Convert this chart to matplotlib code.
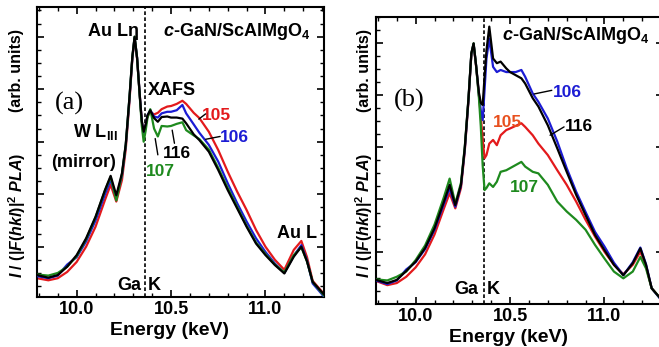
import matplotlib
matplotlib.use("Agg")
import matplotlib.pyplot as plt
from matplotlib.ticker import MultipleLocator, NullFormatter

plt.rcParams['font.family'] = ['Liberation Sans', 'DejaVu Sans']
plt.rcParams['font.weight'] = 'bold'
plt.rcParams['mathtext.fontset'] = 'custom'
plt.rcParams['mathtext.rm'] = 'Liberation Sans:bold'
plt.rcParams['mathtext.bf'] = 'Liberation Sans:bold'
plt.rcParams['mathtext.it'] = 'Liberation Sans:italic:bold'

# ---------------- data (energy in keV, intensity in arb. units) ----------------
energy = [9.79, 9.85, 9.90, 9.95, 10.00, 10.05, 10.10, 10.15, 10.18, 10.21, 10.24,
          10.26, 10.28, 10.295, 10.307, 10.32, 10.335, 10.345, 10.355, 10.365,
          10.375, 10.39, 10.41, 10.43, 10.45, 10.48, 10.50, 10.53, 10.56, 10.58,
          10.62, 10.65, 10.70, 10.75, 10.80, 10.85, 10.90, 10.95, 11.00, 11.05,
          11.10, 11.15, 11.19, 11.22, 11.25, 11.31]

# panel (a)
a_105 = [0.40, 0.36, 0.40, 0.52, 0.71, 1.00, 1.38, 1.89, 2.18, 1.86, 2.27,
         2.85, 3.78, 4.58, 4.97, 4.58, 3.85, 3.38, 3.14, 3.30,
         3.48, 3.57, 3.52, 3.55, 3.62, 3.67, 3.68, 3.72, 3.78, 3.72,
         3.55, 3.45, 3.19, 2.84, 2.43, 2.05, 1.70, 1.32, 1.00, 0.75,
         0.56, 0.94, 1.11, 0.80, 0.35, 0.10]
a_106 = [0.44, 0.40, 0.45, 0.66, 0.80, 1.10, 1.50, 2.00, 2.27, 1.93, 2.36,
         2.92, 3.83, 4.60, 4.99, 4.60, 3.85, 3.38, 3.15, 3.30,
         3.50, 3.60, 3.48, 3.46, 3.54, 3.57, 3.57, 3.60, 3.70, 3.54,
         3.33, 3.17, 2.94, 2.62, 2.21, 1.83, 1.48, 1.16, 0.90, 0.68,
         0.50, 0.83, 1.03, 0.74, 0.30, 0.05]
a_107 = [0.47, 0.45, 0.50, 0.62, 0.82, 1.14, 1.56, 2.07, 2.33, 1.88, 2.38,
         2.94, 3.86, 4.62, 5.00, 4.60, 3.82, 3.30, 3.00, 3.20,
         3.45, 3.62, 3.25, 3.10, 3.30, 3.29, 3.30, 3.34, 3.37, 3.22,
         3.12, 3.05, 2.85, 2.50, 2.12, 1.76, 1.40, 1.08, 0.86, 0.66,
         0.51, 0.84, 0.99, 0.72, 0.33, 0.07]
a_116 = [0.46, 0.41, 0.46, 0.62, 0.84, 1.16, 1.57, 2.08, 2.35, 1.98, 2.40,
         2.95, 3.86, 4.62, 5.00, 4.60, 3.85, 3.40, 3.19, 3.32,
         3.50, 3.60, 3.45, 3.38, 3.47, 3.48, 3.46, 3.46, 3.44, 3.35,
         3.14, 3.03, 2.81, 2.46, 2.08, 1.73, 1.38, 1.06, 0.84, 0.65,
         0.49, 0.81, 1.00, 0.72, 0.33, 0.09]

# panel (b)
b_105 = [0.44, 0.36, 0.40, 0.52, 0.70, 0.95, 1.33, 1.83, 2.12, 1.83, 2.22,
         2.92, 3.90, 4.78, 4.97, 4.55, 4.00, 3.60, 3.15, 2.79,
         2.85, 3.07, 3.14, 3.04, 3.23, 3.33, 3.36, 3.41, 3.46, 3.39,
         3.23, 3.07, 2.85, 2.56, 2.28, 1.96, 1.61, 1.29, 1.00, 0.75,
         0.57, 0.75, 1.00, 0.72, 0.30, 0.05]
b_106 = [0.45, 0.38, 0.45, 0.66, 0.80, 1.05, 1.42, 1.92, 2.22, 1.86, 2.27,
         2.95, 3.92, 4.79, 4.98, 4.57, 4.00, 3.70, 3.52, 4.10,
         4.70, 5.08, 4.54, 4.44, 4.48, 4.44, 4.44, 4.44, 4.48, 4.35,
         4.03, 3.87, 3.55, 3.11, 2.60, 2.15, 1.76, 1.38, 1.10, 0.79,
         0.55, 0.80, 1.08, 0.76, 0.30, 0.03]
b_107 = [0.47, 0.45, 0.52, 0.62, 0.84, 1.12, 1.52, 2.05, 2.40, 1.92, 2.32,
         3.00, 3.95, 4.80, 4.99, 4.57, 3.95, 3.40, 2.65, 2.18,
         2.22, 2.31, 2.24, 2.34, 2.53, 2.56, 2.60, 2.66, 2.72, 2.63,
         2.53, 2.50, 2.28, 1.96, 1.77, 1.61, 1.42, 1.13, 0.87, 0.62,
         0.49, 0.62, 0.90, 0.68, 0.30, 0.05]
b_116 = [0.46, 0.40, 0.46, 0.63, 0.81, 1.07, 1.45, 1.96, 2.28, 1.89, 2.28,
         2.98, 3.94, 4.80, 4.99, 4.57, 4.05, 3.85, 3.81, 4.35,
         4.85, 5.31, 4.70, 4.61, 4.64, 4.51, 4.44, 4.38, 4.32, 4.22,
         3.94, 3.78, 3.42, 2.98, 2.53, 2.09, 1.70, 1.32, 1.03, 0.75,
         0.55, 0.78, 1.065, 0.75, 0.30, 0.05]

ga_k_edge = 10.36
xticks = [10.0, 10.5, 11.0]
xtick_labels = ["10.0", "10.5", "11.0"]

C_RED = '#e31a1c'
C_ORANGE = '#e8501e'
C_BLUE = '#1c1cd4'
C_GREEN = '#1e8a1e'
C_BLACK = '#000000'

fig = plt.figure(figsize=(6.59, 3.47), dpi=100)
axa = fig.add_axes([37/659, 1-297/347, (324-37)/659, (297-7)/347])
axb = fig.add_axes([376/659, 1-304.3/347, (663-376)/659, (304.3-16.7)/347])

LW = 1.6
def style(ax, ylim):
    ax.set_xlim(9.79, 11.31)
    ax.set_ylim(*ylim)
    ax.set_xticks(xticks)
    ax.set_xticklabels(xtick_labels, fontsize=13, fontweight='bold')
    ax.xaxis.set_minor_locator(MultipleLocator(0.1))
    ax.yaxis.set_major_locator(MultipleLocator(1.0))
    ax.yaxis.set_minor_locator(MultipleLocator(0.25))
    ax.yaxis.set_major_formatter(NullFormatter())
    ax.tick_params(which='both', direction='in', top=True, right=True)
    ax.tick_params(which='major', length=5, width=1.2, pad=3)
    ax.tick_params(which='minor', length=3, width=1.0)
    for s in ax.spines.values():
        s.set_linewidth(1.5)
    ax.set_xlabel('Energy (keV)', fontsize=14, fontweight='bold')
    ax.xaxis.set_label_coords(0.46, -0.085)
    ax.axvline(ga_k_edge, color='black', lw=1.2, ls=(0, (2.2, 1.4)), zorder=1)

style(axa, (0.042, 5.566))
style(axb, (-0.007, 5.50))

for ax, (r, b, g, k) in ((axa, (a_105, a_106, a_107, a_116)),
                         (axb, (b_105, b_106, b_107, b_116))):
    ax.plot(energy, r, color=C_RED, lw=LW, zorder=2)
    ax.plot(energy, b, color=C_BLUE, lw=LW, zorder=3)
    ax.plot(energy, g, color=C_GREEN, lw=LW, zorder=4)
    ax.plot(energy, k, color=C_BLACK, lw=LW, zorder=5)

ylab_main = r'$I$ / (|$F$($hkl$)|$^2$ $PLA$)'
for xf in (17/659, 364/659):
    fig.text(xf, 1-215/347, ylab_main, rotation=90, ha='center', va='center',
             fontsize=11.5, fontweight='bold')
    fig.text(xf, 1-70/347, '(arb. units)', rotation=90, ha='center', va='center',
             fontsize=11.5, fontweight='bold')

TF = dict(fontsize=13, fontweight='bold')
LF = dict(fontsize=12.5, fontweight='bold')
line_kw = dict(arrowstyle='-', lw=1.0, color='black', shrinkA=0, shrinkB=0)

# ---- panel (a) annotations
axa.text(10.058, 5.01, 'Au Lη', ha='left', va='baseline', **TF)
axa.text(10.455, 5.01, r'$c$-GaN/ScAlMgO$_4$', ha='left', va='baseline', **TF)
axa.text(9.963, 3.737, '(a)', ha='center', va='center', fontsize=19,
         fontweight='normal', family='Liberation Serif')
axa.text(10.376, 3.89, 'XAFS', ha='left', va='baseline', **TF)
axa.text(10.098, 3.09, r'W L$_{\rm III}$', ha='center', va='baseline', **TF)
axa.text(10.037, 2.52, '(mirror)', ha='center', va='baseline', **TF)
axa.text(11.063, 1.17, 'Au L', ha='left', va='baseline', **TF)
axa.text(10.344, 0.175, 'Ga', ha='right', va='baseline', **TF)
axa.text(10.376, 0.175, 'K', ha='left', va='baseline', **TF)

axa.text(10.661, 3.41, '105', color=C_RED, ha='left', va='baseline', **LF)
axa.annotate('', xy=(10.647, 3.43), xytext=(10.683, 3.53), arrowprops=line_kw)
axa.text(10.757, 3.0, '106', color=C_BLUE, ha='left', va='baseline', **LF)
axa.annotate('', xy=(10.683, 3.046), xytext=(10.76, 3.10), arrowprops=line_kw)
axa.text(10.455, 2.69, '116', color=C_BLACK, ha='left', va='baseline', **LF)
axa.annotate('', xy=(10.506, 3.22), xytext=(10.518, 2.97), arrowprops=line_kw)
axa.text(10.365, 2.35, '107', color=C_GREEN, ha='left', va='baseline', **LF)
axa.annotate('', xy=(10.416, 3.06), xytext=(10.43, 2.75), arrowprops=line_kw)

# ---- panel (b) annotations
axb.text(10.456, 5.05, r'$c$-GaN/ScAlMgO$_4$', ha='left', va='baseline', **TF)
axb.text(9.964, 3.90, '(b)', ha='center', va='center', fontsize=19,
         fontweight='normal', family='Liberation Serif')
axb.text(10.332, 0.185, 'Ga', ha='right', va='baseline', **TF)
axb.text(10.376, 0.185, 'K', ha='left', va='baseline', **TF)

axb.text(10.728, 3.97, '106', color=C_BLUE, ha='left', va='baseline', **LF)
axb.annotate('', xy=(10.627, 4.02), xytext=(10.721, 4.09), arrowprops=line_kw)
axb.text(10.41, 3.39, '105', color=C_ORANGE, ha='left', va='baseline', **LF)
axb.text(10.79, 3.31, '116', color=C_BLACK, ha='left', va='baseline', **LF)
axb.annotate('', xy=(10.712, 3.23), xytext=(10.786, 3.39), arrowprops=line_kw)
axb.text(10.50, 2.14, '107', color=C_GREEN, ha='left', va='baseline', **LF)

fig.savefig('out.png', dpi=100)
